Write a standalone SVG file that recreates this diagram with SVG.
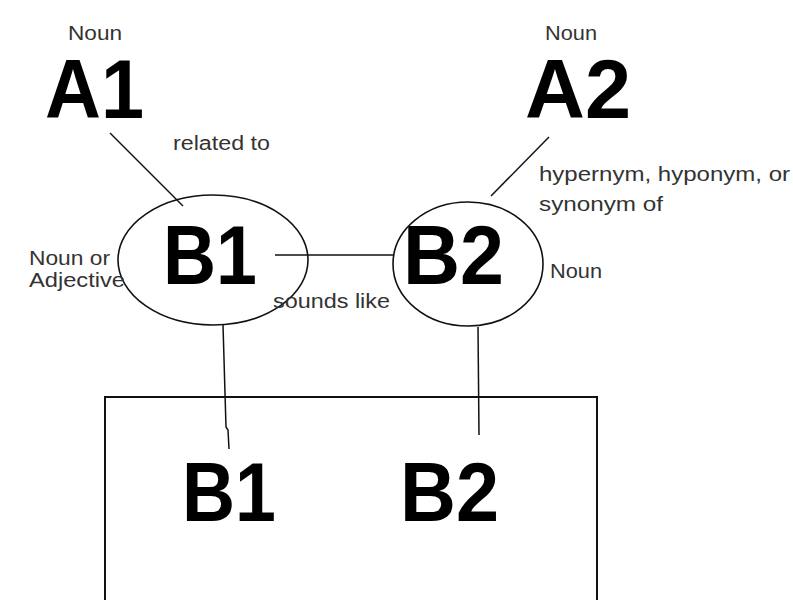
<svg xmlns="http://www.w3.org/2000/svg" width="793" height="600" viewBox="0 0 793 600">
<style>
.big{font-family:"Liberation Sans",Arial,sans-serif;font-weight:bold;font-size:84px;fill:#000}
.sm{font-family:"Liberation Sans",Arial,sans-serif;font-size:20px;fill:#333}
.ln{stroke:#111;stroke-width:1.5;fill:none}
.ov{stroke:#111;stroke-width:1.6;fill:none}
</style>
<rect width="793" height="600" fill="#fff"/>
<g id="connectors">
<line class="ln" x1="110" y1="133" x2="183" y2="206"/>
<line class="ln" x1="549" y1="137" x2="491" y2="196"/>
<line class="ln" x1="275" y1="255" x2="393" y2="255"/>
<polyline class="ln" points="223,325 226,427 228,430 229,449"/>
<line class="ln" x1="478" y1="327" x2="479" y2="435"/>
</g>
<g id="A1">
<text class="sm" x="68" y="40" textLength="54" lengthAdjust="spacingAndGlyphs">Noun</text>
<text class="big" x="45" y="118" textLength="99" lengthAdjust="spacingAndGlyphs">A1</text>
</g>
<g id="A2">
<text class="sm" x="545" y="40" textLength="52" lengthAdjust="spacingAndGlyphs">Noun</text>
<text class="big" x="525" y="118" textLength="106" lengthAdjust="spacingAndGlyphs">A2</text>
</g>
<g id="label-related">
<text class="sm" x="173" y="150" textLength="97" lengthAdjust="spacingAndGlyphs">related to</text>
</g>
<g id="label-hyper">
<text class="sm" x="539" y="181" textLength="251" lengthAdjust="spacingAndGlyphs">hypernym, hyponym, or</text>
<text class="sm" x="539" y="211" textLength="124" lengthAdjust="spacingAndGlyphs">synonym of</text>
</g>
<g id="B1">
<ellipse class="ov" cx="213" cy="260" rx="95" ry="65"/>
<text class="big" x="163" y="284" textLength="94" lengthAdjust="spacingAndGlyphs">B1</text>
<text class="sm" x="29" y="265" textLength="81" lengthAdjust="spacingAndGlyphs">Noun or</text>
<text class="sm" x="29" y="287" textLength="96" lengthAdjust="spacingAndGlyphs">Adjective</text>
</g>
<g id="label-sounds">
<text class="sm" x="273" y="308" textLength="117" lengthAdjust="spacingAndGlyphs">sounds like</text>
</g>
<g id="B2">
<ellipse class="ov" cx="468" cy="264" rx="75" ry="62"/>
<text class="big" x="403" y="284" textLength="101" lengthAdjust="spacingAndGlyphs">B2</text>
<text class="sm" x="550" y="278" textLength="52" lengthAdjust="spacingAndGlyphs">Noun</text>
</g>
<g id="box">
<polyline class="ln" style="stroke-width:2" points="105,605 105,397 597,397 597,605"/>
<text class="big" x="182" y="521" textLength="94" lengthAdjust="spacingAndGlyphs">B1</text>
<text class="big" x="400" y="521" textLength="99" lengthAdjust="spacingAndGlyphs">B2</text>
</g>
</svg>
